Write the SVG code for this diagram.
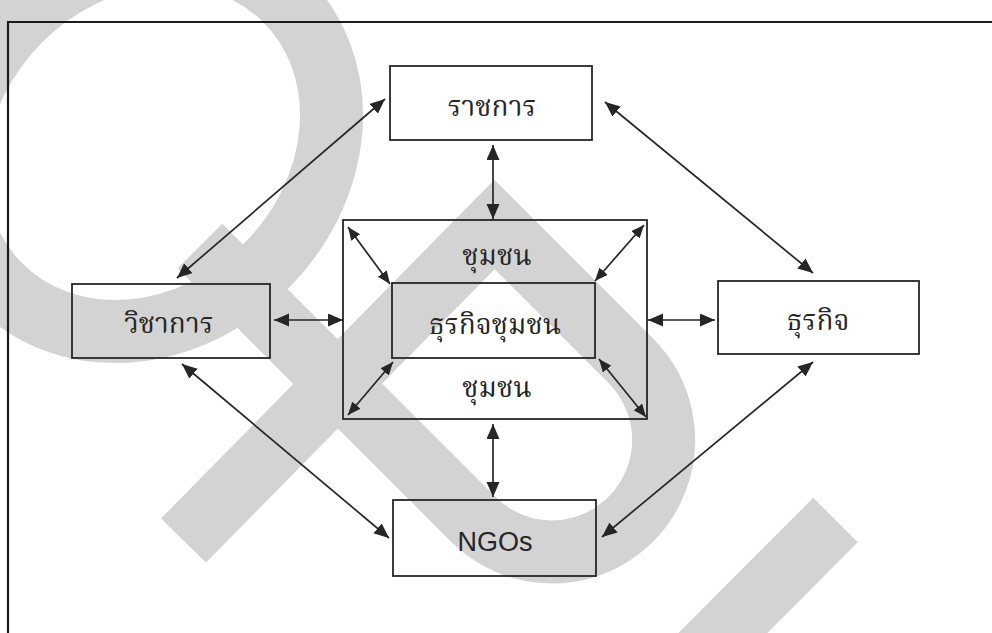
<svg xmlns="http://www.w3.org/2000/svg" width="992" height="633" viewBox="0 0 992 633">
<defs>
<style>
.wm{fill:none;stroke:#d3d3d3;stroke-width:63;stroke-linejoin:miter;stroke-linecap:butt}
.box{fill:none;stroke:#262626;stroke-width:1.8}
.con{fill:none;stroke:#262626;stroke-width:1.7}
.th{font-family:"Noto Serif Thai","Noto Sans Thai Looped","Noto Sans Thai","Norasi","Loma","Garuda","Noto Sans",sans-serif;font-size:28px;fill:#262626;text-anchor:middle}
.en{font-family:"Liberation Sans",Arial,sans-serif;font-size:27px;fill:#262626;text-anchor:middle}
</style>
<marker id="ah" markerUnits="userSpaceOnUse" markerWidth="16" markerHeight="14" refX="15" refY="6.5" orient="auto-start-reverse"><path d="M0,0 L15,6.5 L0,13 z" fill="#262626"/></marker>
<marker id="as" markerUnits="userSpaceOnUse" markerWidth="14" markerHeight="12" refX="13" refY="5.5" orient="auto-start-reverse"><path d="M0,0 L13,5.5 L0,11 z" fill="#262626"/></marker>
</defs>
<rect width="992" height="633" fill="#ffffff"/>
<g id="watermark">
<ellipse class="wm" cx="143" cy="143" rx="202" ry="174" transform="rotate(-45 143 143)"/>
<path class="wm" d="M183.5,540.5 L494.5,224.5 L631,361 A112,112 0 0 1 552,552 A112,112 0 0 1 473,519 L200,246"/>
<path class="wm" d="M835.5,520 L680,676"/>
</g>
<path d="M8,640 L8,22 L1000,22" fill="none" stroke="#1a1a1a" stroke-width="2.2"/>
<g id="connectors">
<line class="con" x1="385" y1="99" x2="177" y2="278" marker-start="url(#ah)" marker-end="url(#ah)"/>
<line class="con" x1="605" y1="102" x2="813" y2="273" marker-start="url(#ah)" marker-end="url(#ah)"/>
<line class="con" x1="493" y1="145" x2="493" y2="219" marker-start="url(#ah)" marker-end="url(#ah)"/>
<line class="con" x1="274" y1="320" x2="343" y2="320" marker-start="url(#ah)" marker-end="url(#ah)"/>
<line class="con" x1="648" y1="320" x2="715" y2="320" marker-start="url(#ah)" marker-end="url(#ah)"/>
<line class="con" x1="493" y1="424" x2="493" y2="497" marker-start="url(#ah)" marker-end="url(#ah)"/>
<line class="con" x1="182" y1="364" x2="389" y2="538" marker-start="url(#ah)" marker-end="url(#ah)"/>
<line class="con" x1="813" y1="362" x2="602" y2="537" marker-start="url(#ah)" marker-end="url(#ah)"/>
<line class="con" x1="348" y1="227" x2="390" y2="284" marker-start="url(#as)" marker-end="url(#as)"/>
<line class="con" x1="644" y1="225" x2="595" y2="281" marker-start="url(#as)" marker-end="url(#as)"/>
<line class="con" x1="393" y1="362" x2="348" y2="415" marker-start="url(#as)" marker-end="url(#as)"/>
<line class="con" x1="599" y1="359" x2="646" y2="417" marker-start="url(#as)" marker-end="url(#as)"/>
</g>
<g id="n-ratchakan">
<rect class="box" x="390" y="66" width="202" height="74"/>
<text class="th" x="492" y="116">ราชการ</text>
</g>
<g id="n-community">
<rect class="box" x="343" y="220" width="304" height="199"/>
<text class="th" x="497" y="265">ชุมชน</text>
<text class="th" x="497" y="397">ชุมชน</text>
</g>
<g id="n-community-business">
<rect class="box" x="392" y="283" width="203" height="75"/>
<text class="th" x="495" y="334">ธุรกิจชุมชน</text>
</g>
<g id="n-wichakan">
<rect class="box" x="72" y="284" width="198" height="74"/>
<text class="th" x="169" y="333">วิชาการ</text>
</g>
<g id="n-thurakit">
<rect class="box" x="718" y="281" width="201" height="73"/>
<text class="th" x="818" y="330">ธุรกิจ</text>
</g>
<g id="n-ngos">
<rect class="box" x="393" y="500" width="203" height="76"/>
<text class="en" x="495" y="551">NGOs</text>
</g>
</svg>
